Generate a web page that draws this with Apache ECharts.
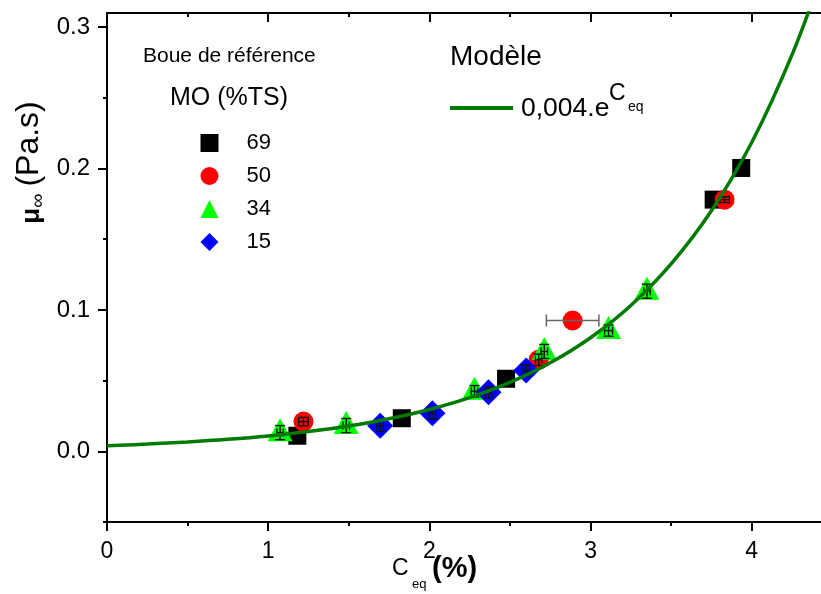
<!DOCTYPE html>
<html>
<head>
<meta charset="utf-8">
<script src="https://cdn.jsdelivr.net/npm/echarts@6/dist/echarts.min.js"></script>
<style>html,body{margin:0;padding:0;background:#fff}#c{width:821px;height:594px}</style>
</head>
<body>
<div id="c"></div>
<script>
// ---- data ----
const legendNames = ['69', '50', '34', '15'];
const mo69X = [1.181, 1.829, 2.476, 3.764, 3.935];
const mo69Y = [0.0110, 0.0234, 0.0513, 0.1780, 0.2004];
const mo50X = [1.219, 2.678, 2.889, 3.832];
const mo50Y = [0.0210, 0.0647, 0.0925, 0.1780];
const mo50XErr = [0.030, 0.020, 0.163, 0.030];
const mo50YErr = [0.003, 0.004, 0.000, 0.002];
const mo34X = [1.074, 1.484, 2.280, 2.713, 3.112, 3.350];
const mo34Y = [0.0132, 0.0182, 0.0425, 0.0706, 0.0854, 0.1132];
const mo34XErr = [0.020, 0.020, 0.020, 0.020, 0.025, 0.020];
const mo34YErr = [0.005, 0.005, 0.004, 0.005, 0.004, 0.005];
const mo15X = [1.695, 2.019, 2.367, 2.601];
const mo15Y = [0.0180, 0.0269, 0.0418, 0.0571];
const mo15XErr = [0.020, 0.020, 0.020, 0.020];
const mo15YErr = [0.004, 0.004, 0.004, 0.004];
// model curve
const curveX = [0, 0.25, 0.5, 0.75, 1, 1.25, 1.5, 1.75, 2, 2.25, 2.5, 2.75, 3, 3.25, 3.5, 3.75, 4, 4.25, 4.43];
const curveY = [0.0040, 0.0051, 0.0066, 0.0085, 0.0109, 0.0140, 0.0179, 0.0230, 0.0296, 0.0380, 0.0487, 0.0626, 0.0803, 0.1031, 0.1325, 0.1701, 0.2184, 0.2804, 0.3360];
const xMajor = [0, 1, 2, 3, 4];
const xMinor = [0.5, 1.5, 2.5, 3.5];
const yMajor = [0, 0.1, 0.2, 0.3];
const yMinor = [-0.05, 0.05, 0.15, 0.25];

const FONT = "'Liberation Sans', Arial, sans-serif";
const zip = (xs, ys) => xs.map((x, i) => [x, ys[i]]);
const errData = [];
[[mo50X, mo50Y, mo50XErr, mo50YErr], [mo34X, mo34Y, mo34XErr, mo34YErr], [mo15X, mo15Y, mo15XErr, mo15YErr]]
  .forEach(([xs, ys, xe, ye]) => xs.forEach((x, i) => errData.push([x, ys[i], xe[i], ye[i]])));

function renderErr(params, api) {
  const x = api.value(0), y = api.value(1), xe = api.value(2), ye = api.value(3);
  const c = api.coord([x, y]);
  const big = xe > 0.1;
  const style = { stroke: big ? '#666' : '#111', lineWidth: big ? 1.5 : 1.4 };
  const ch = [];
  if (ye > 0) {
    const t = api.coord([x, y + ye]), b = api.coord([x, y - ye]);
    ch.push({ type: 'line', shape: { x1: c[0], y1: t[1], x2: c[0], y2: b[1] }, style });
    ch.push({ type: 'line', shape: { x1: c[0] - 5, y1: t[1], x2: c[0] + 5, y2: t[1] }, style });
    ch.push({ type: 'line', shape: { x1: c[0] - 5, y1: b[1], x2: c[0] + 5, y2: b[1] }, style });
  }
  if (xe > 0) {
    const l = api.coord([x - xe, y]), r = api.coord([x + xe, y]);
    const h = big ? 6 : 4;
    ch.push({ type: 'line', shape: { x1: l[0], y1: c[1], x2: r[0], y2: c[1] }, style });
    ch.push({ type: 'line', shape: { x1: l[0], y1: c[1] - h, x2: l[0], y2: c[1] + h }, style });
    ch.push({ type: 'line', shape: { x1: r[0], y1: c[1] - h, x2: r[0], y2: c[1] + h }, style });
  }
  return { type: 'group', children: ch };
}

const XMIN = 0, XMAX = 4.43, YMIN = -0.05, YMAX = 0.31;
const lineSt = { color: '#000', width: 2 };
function xAx(pos, ticks, len, inside, line, labels) {
  return {
    type: 'value', position: pos, min: XMIN, max: XMAX,
    axisLine: { show: line, onZero: false, lineStyle: lineSt },
    axisTick: { show: true, inside, length: len, customValues: ticks, lineStyle: { color: '#000', width: 2 } },
    axisLabel: labels ? { show: true, customValues: ticks, margin: 18, color: '#000', fontSize: 23, fontFamily: FONT } : { show: false },
    splitLine: { show: false }
  };
}
function yAx(ticks, len, line, labels) {
  return {
    type: 'value', position: 'left', min: YMIN, max: YMAX,
    axisLine: { show: line, onZero: false, lineStyle: lineSt },
    axisTick: { show: true, inside: false, length: len, customValues: ticks, lineStyle: { color: '#000', width: 2 } },
    axisLabel: labels ? { show: true, customValues: ticks, margin: 17, color: '#000', fontSize: 24, fontFamily: FONT, formatter: v => v.toFixed(1) } : { show: false },
    splitLine: { show: false }
  };
}

const chart = echarts.init(document.getElementById('c'), null, { renderer: 'canvas' });
chart.setOption({
  animation: false,
  backgroundColor: '#fff',
  grid: { left: 107, right: 0, top: 13, bottom: 72 },
  xAxis: [
    xAx('bottom', xMajor, 9, false, true, true),
    xAx('bottom', xMinor, 4, false, false, false),
    xAx('top', xMajor, 9, true, true, false),
    xAx('top', xMinor, 4, true, false, false)
  ],
  yAxis: [
    yAx(yMajor, 9, true, true),
    yAx(yMinor, 4, false, false)
  ],
  legend: [
    {
      data: legendNames, orient: 'vertical', left: 195.5, top: 127, padding: 5,
      itemWidth: 18, itemHeight: 18, itemGap: 11, selectedMode: false,
      textStyle: { fontSize: 22, lineHeight: 22, fontFamily: FONT, color: '#000', padding: [0, 0, 0, 23] }
    },
    {
      data: ['model'], left: 445, top: 101, padding: 5, icon: 'rect',
      itemWidth: 63, itemHeight: 4, selectedMode: false,
      formatter: () => '',
      textStyle: { fontSize: 4, lineHeight: 4 }
    }
  ],
  graphic: [
    { type: 'text', x: 143, y: 56, style: { text: 'Boue de référence', fontSize: 21, fontFamily: FONT, fill: '#000', align: 'left', verticalAlign: 'middle' } },
    { type: 'text', x: 170, y: 98.6, style: { text: 'MO (%TS)', fontSize: 25, fontFamily: FONT, fill: '#000', align: 'left', verticalAlign: 'middle' } },
    { type: 'text', x: 450, y: 57, style: { text: 'Modèle', fontSize: 28, fontFamily: FONT, fill: '#000', align: 'left', verticalAlign: 'middle' } },
    { type: 'text', x: 521, y: 109, style: { text: '0,004.e', fontSize: 26.5, fontFamily: FONT, fill: '#000', align: 'left', verticalAlign: 'middle' } },
    { type: 'text', x: 609, y: 94, style: { text: 'C', fontSize: 23, fontFamily: FONT, fill: '#000', align: 'left', verticalAlign: 'middle' } },
    { type: 'text', x: 628, y: 107, style: { text: 'eq', fontSize: 14, fontFamily: FONT, fill: '#000', align: 'left', verticalAlign: 'middle' } },
    { type: 'text', x: 392, y: 569, style: { text: 'C', fontSize: 23, fontFamily: FONT, fill: '#000', align: 'left', verticalAlign: 'middle' } },
    { type: 'text', x: 412, y: 584.5, style: { text: 'eq', fontSize: 13, fontFamily: FONT, fill: '#000', align: 'left', verticalAlign: 'middle' } },
    { type: 'text', x: 432, y: 568.6, style: { text: '(%)', fontSize: 29, fontWeight: 'bold', fontFamily: FONT, fill: '#000', align: 'left', verticalAlign: 'middle' } },
    {
      type: 'text', x: 32.5, y: 162.5, rotation: Math.PI / 2,
      style: {
        text: '{mu|μ}{inf|∞}{p|(Pa.s)}', align: 'center', verticalAlign: 'middle', fill: '#000',
        rich: {
          mu: { fontSize: 26, fontWeight: 'bold', fontFamily: FONT, lineHeight: 26, padding: [0, 0, 4, 0], verticalAlign: 'bottom', fill: '#000' },
          inf: { fontSize: 20, fontFamily: FONT, lineHeight: 20, padding: [0, 7, 0, 0], verticalAlign: 'bottom', fill: '#000' },
          p: { fontSize: 32, fontFamily: FONT, lineHeight: 32, padding: [0, 0, 3.2, 0], verticalAlign: 'bottom', fill: '#000' }
        }
      }
    }
  ],
  series: [
    { name: '69', type: 'scatter', z: 2, data: zip(mo69X, mo69Y), symbol: 'rect', symbolSize: 18, itemStyle: { color: '#000000', opacity: 1 } },
    { name: '50', type: 'scatter', z: 2, data: zip(mo50X, mo50Y), symbol: 'circle', symbolSize: 20, itemStyle: { color: '#ff0000', opacity: 1 } },
    { name: '34', type: 'scatter', z: 2, data: zip(mo34X, mo34Y), symbol: 'triangle', symbolSize: [25, 23], symbolOffset: [0, -3], itemStyle: { color: '#00ff00', opacity: 1 } },
    { name: '15', type: 'scatter', z: 2, data: zip(mo15X, mo15Y), symbol: 'diamond', symbolSize: 26, itemStyle: { color: '#0000ff', opacity: 1 } },
    { name: 'err', type: 'custom', z: 3, renderItem: renderErr, data: errData, encode: { x: 0, y: 1 }, clip: true, silent: true },
    {
      name: 'model', type: 'line', z: 4, data: zip(curveX, curveY), smooth: 0.4, symbol: 'none', clip: true,
      lineStyle: { color: '#007a00', width: 3.5 }, itemStyle: { color: '#007a00' }
    }
  ]
});
</script>
</body>
</html>
